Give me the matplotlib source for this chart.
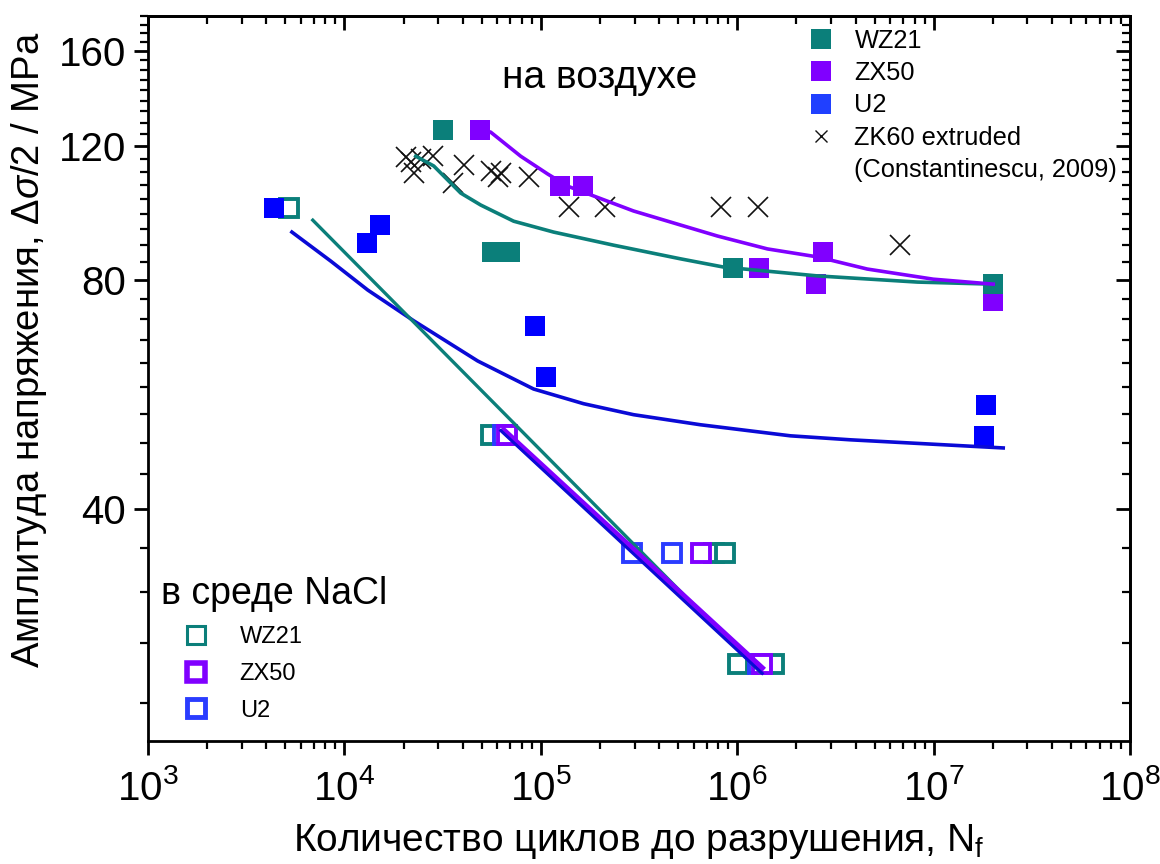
import matplotlib
matplotlib.use('Agg')
import matplotlib.pyplot as plt
import numpy as np
from matplotlib.lines import Line2D
from matplotlib.ticker import FixedLocator, NullFormatter, FixedFormatter

plt.rcParams['font.family'] = ['Liberation Sans', 'DejaVu Sans']
plt.rcParams['mathtext.fontset'] = 'custom'
plt.rcParams['mathtext.rm'] = 'Liberation Sans'
plt.rcParams['mathtext.it'] = 'Liberation Sans:italic'
plt.rcParams['mathtext.bf'] = 'Liberation Sans:bold'

# colours
TEAL = '#0b7f7a'
PURPLE = '#8000ff'
BLUE = '#0000ff'
BLUE_OPEN = '#2a3cff'
BLUE_LINE = '#0a0ad6'

# air, filled squares
air_wz21_n = [31700, 56200, 69300, 953000, 2.01e7]
air_wz21_s = [126, 87, 87, 83, 79]
air_zx50_n = [49200, 125000, 163000, 1.29e6, 2.53e6, 2.74e6, 2.0e7]
air_zx50_s = [126, 106.5, 106.5, 83, 79, 87, 75]
air_u2_n = [4390, 12970, 15100, 92900, 105700, 1.81e7, 1.85e7]
air_u2_s = [99.5, 89.5, 94.5, 69.7, 59.6, 49.8, 54.8]

# ZK60 extruded (Constantinescu, 2009)
zk60_n = [20500, 21800, 22500, 24500, 28200, 40500, 35600, 55600, 60300,
          62500, 86700, 138400, 211000, 831000, 1.28e6, 6.76e6]
zk60_s = [116.1, 114.3, 110.6, 115.4, 116.4, 113.3, 107.3, 111.3, 109.3,
          110.6, 109.3, 99.8, 99.8, 99.8, 99.8, 88.9]

# NaCl, open squares
nacl_wz21_n = [5210, 55600, 757000, 871000, 1.01e6, 1.53e6]
nacl_wz21_s = [99.5, 50, 35, 35, 25, 25]
nacl_zx50_n = [67000, 650000, 1.34e6]
nacl_zx50_s = [50, 35, 25]
nacl_u2_n = [63900, 289700, 462700, 1.28e6]
nacl_u2_s = [50, 35, 35, 25]

# fitted curves, air
fit_wz21_n = [23080, 28500, 39090, 49400, 72700, 116100, 234600, 514000,
              851000, 2.56e6, 8.26e6, 2.01e7]
fit_wz21_s = [116.4, 113.0, 104.1, 100.4, 95.6, 92.5, 88.9, 85.3, 83.2,
              81.0, 79.5, 79.0]
fit_zx50_n = [50580, 55550, 78950, 108300, 136900, 185600, 296500, 514000,
              793000, 1.424e6, 2.56e6, 4.59e6, 9.95e6, 2.01e7]
fit_zx50_s = [126.0, 125.2, 116.4, 110.3, 106.3, 103.2, 98.6, 94.5, 91.4,
              87.9, 85.8, 82.7, 80.2, 79.0]
fit_u2_n = [5402, 8527, 13150, 22540, 47700, 91900, 165000, 296500, 650000,
            1.866e6, 3.77e6, 2.26e7]
fit_u2_s = [92.5, 84.7, 77.6, 70.7, 62.6, 57.5, 55.0, 53.2, 51.6, 49.9,
            49.3, 48.1]

# fitted lines, NaCl
nfit_wz21_n = [6900, 1.31e6]
nfit_wz21_s = [95.9, 24.4]
nfit_zx50_n = [64700, 1.33e6]
nfit_zx50_s = [50.7, 24.7]
nfit_u2_n = [62500, 1.34e6]
nfit_u2_s = [50.7, 24.3]

y_major = [40, 80, 120, 160]

fig = plt.figure(figsize=(11.6, 8.64), dpi=100)
ax = fig.add_axes([0.1276, 0.1424, 0.8466, 0.8391])
ax.set_xscale('log')
ax.set_yscale('log')

open_kw = dict(linestyle='none', marker='s', markersize=12.5,
               markerfacecolor='white', markeredgewidth=2.8)
ax.plot(nacl_wz21_n, nacl_wz21_s, markeredgecolor=TEAL, zorder=2, **open_kw)
ax.plot(nacl_u2_n, nacl_u2_s, markeredgecolor=BLUE_OPEN, zorder=2, **open_kw)
ax.plot(nacl_zx50_n, nacl_zx50_s, markeredgecolor=PURPLE, zorder=2, **open_kw)

fill_kw = dict(linestyle='none', marker='s', markersize=15, markeredgewidth=0)
ax.plot(air_zx50_n, air_zx50_s, color=PURPLE, zorder=3, **fill_kw)
ax.plot(air_wz21_n, air_wz21_s, color=TEAL, zorder=3, **fill_kw)
ax.plot(air_u2_n, air_u2_s, color=BLUE, zorder=3, **fill_kw)

ax.plot(zk60_n, zk60_s, linestyle='none', marker='x', markersize=14.5,
        markeredgewidth=1.2, color='#111111', zorder=4)

ax.plot(fit_wz21_n, fit_wz21_s, color=TEAL, lw=2.6, zorder=5)
ax.plot(fit_zx50_n, fit_zx50_s, color=PURPLE, lw=2.6, zorder=5)
ax.plot(fit_u2_n, fit_u2_s, color=BLUE_LINE, lw=2.6, zorder=5)
ax.plot(nfit_wz21_n, nfit_wz21_s, color=TEAL, lw=2.4, zorder=5)
ax.plot(nfit_zx50_n, nfit_zx50_s, color=PURPLE, lw=4.5, zorder=5)
ax.plot(nfit_u2_n, nfit_u2_s, color=BLUE_LINE, lw=2.2, zorder=6)

ax.set_xlim(1e3, 1e8)
ax.set_ylim(19.8, 178)

y_minor = [v for v in np.arange(1, 41) * 40 / 9 if v not in y_major]
ax.yaxis.set_major_locator(FixedLocator(y_major))
ax.yaxis.set_major_formatter(FixedFormatter([str(v) for v in y_major]))
ax.yaxis.set_minor_locator(FixedLocator(y_minor))
ax.yaxis.set_minor_formatter(NullFormatter())

for s in ax.spines.values():
    s.set_linewidth(2)
ax.tick_params(which='major', direction='out', length=10, width=2,
               labelsize=29, pad=6)
ax.tick_params(axis='x', which='major', pad=10)
ax.tick_params(which='minor', direction='out', length=6, width=1.6)

# mirrored ticks on top and right, pointing inward
top = ax.secondary_xaxis('top')
top.tick_params(which='major', direction='in', length=10, width=2)
top.tick_params(which='minor', direction='in', length=6, width=1.6)
top.xaxis.set_major_formatter(NullFormatter())
top.xaxis.set_minor_formatter(NullFormatter())
right = ax.secondary_yaxis('right')
right.yaxis.set_major_locator(FixedLocator(y_major))
right.yaxis.set_minor_locator(FixedLocator(y_minor))
right.yaxis.set_major_formatter(NullFormatter())
right.yaxis.set_minor_formatter(NullFormatter())
right.tick_params(which='major', direction='in', length=10, width=2)
right.tick_params(which='minor', direction='in', length=6, width=1.6)
for sec in (top, right):
    for s in sec.spines.values():
        s.set_linewidth(2)

ax.set_xlabel('Количество циклов до разрушения, N$_{\\mathrm{f}}$',
              fontsize=28, labelpad=10)
ax.set_ylabel('Амплитуда напряжения, $\\mathit{Δσ/2}$ / MPa',
              fontsize=27.5)
ax.yaxis.set_label_coords(-0.101, 0.54)

ax.text(0.46, 0.914, 'на воздухе', transform=ax.transAxes, fontsize=28,
        ha='center', va='center')

# legend for air
air_handles = [
    Line2D([], [], ls='none', marker='s', ms=15, mew=0, color=TEAL),
    Line2D([], [], ls='none', marker='s', ms=15, mew=0, color=PURPLE),
    Line2D([], [], ls='none', marker='s', ms=15, mew=0, color='#2040ff'),
    Line2D([], [], ls='none', marker='x', ms=9, mew=1.0, color='#111111'),
    Line2D([], [], ls='none'),
]
air_labels = ['WZ21', 'ZX50', 'U2', 'ZK60 extruded', '(Constantinescu, 2009)']
leg1 = ax.legend(air_handles, air_labels, loc='upper right',
                 bbox_to_anchor=(1.0, 1.0), frameon=False, fontsize=18.3,
                 handlelength=1.0, handletextpad=0.8, labelspacing=0.33,
                 borderaxespad=0.2, borderpad=0.3)
ax.add_artist(leg1)

# legend for NaCl
nacl_handles = [
    Line2D([], [], ls='none', marker='s', ms=12.5, mfc='white', mew=2.2,
           mec=TEAL),
    Line2D([], [], ls='none', marker='s', ms=12.5, mfc='white', mew=4.0,
           mec=PURPLE),
    Line2D([], [], ls='none', marker='s', ms=12.5, mfc='white', mew=3.5,
           mec=BLUE_OPEN),
]
leg2 = ax.legend(nacl_handles, ['WZ21', 'ZX50', 'U2'], loc='lower left',
                 bbox_to_anchor=(-0.004, 0.004), frameon=False, fontsize=17,
                 title='в среде NaCl', title_fontsize=27, alignment='left',
                 handlelength=3.0, handletextpad=0.35, labelspacing=0.62,
                 borderaxespad=0.3, borderpad=0.4)

fig.savefig('out.png', dpi=100)
